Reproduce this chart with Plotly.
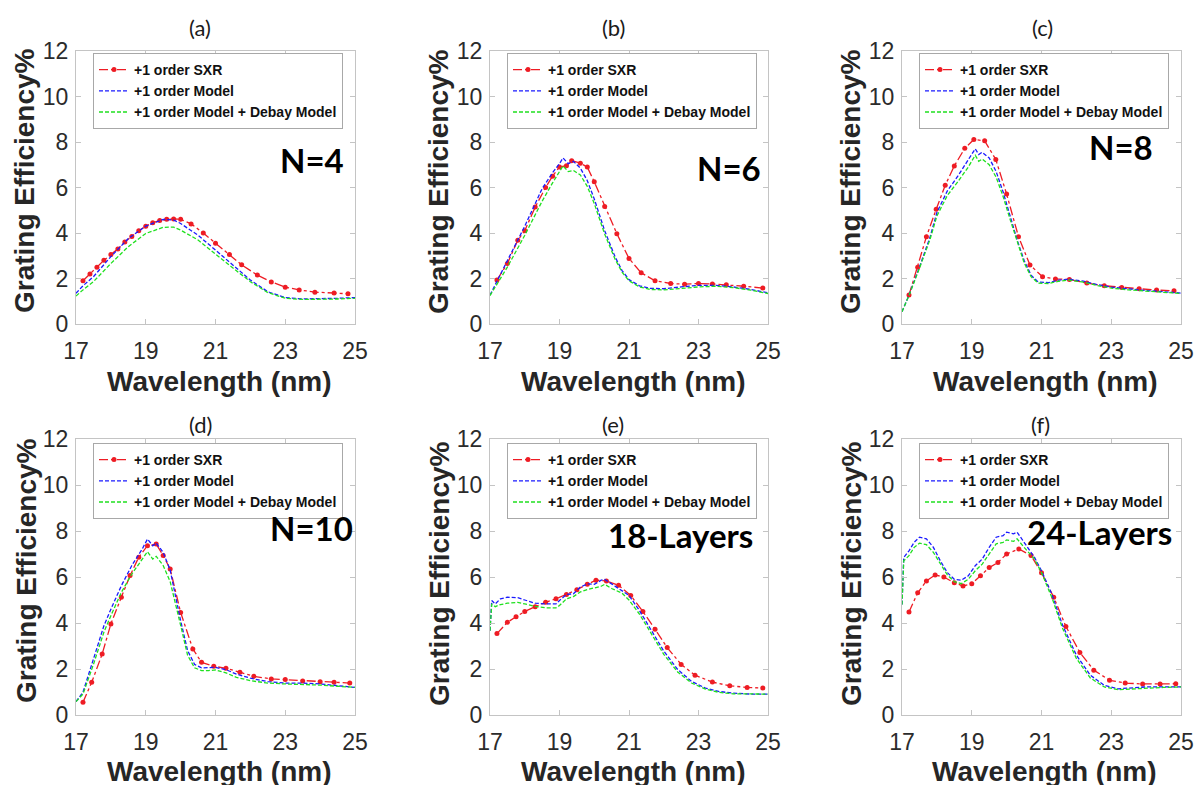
import plotly.graph_objects as go

# ---------------- data ----------------
x_ticks = [17, 19, 21, 23, 25]
y_ticks = [0, 2, 4, 6, 8, 10, 12]
panel_titles = ["(a)", "(b)", "(c)", "(d)", "(e)", "(f)"]
panel_labels = ["N=4", "N=6", "N=8", "N=10", "18-Layers", "24-Layers"]
series_names = ["+1 order SXR", "+1 order Model", "+1 order Model + Debay Model"]

# (a) N=4
a_mx = [17.0, 17.2, 17.5, 18.0, 18.5, 19.0, 19.5, 19.8, 20.0, 20.5, 21.0, 21.5, 22.0, 22.5, 23.0, 23.5, 24.0, 24.5, 25.0]
a_blue = [1.35, 1.68, 2.08, 2.96, 3.76, 4.3, 4.6, 4.57, 4.42, 3.9, 3.25, 2.6, 1.93, 1.42, 1.16, 1.1, 1.1, 1.13, 1.16]
a_green = [1.23, 1.5, 1.86, 2.66, 3.4, 3.98, 4.25, 4.26, 4.13, 3.69, 3.07, 2.45, 1.86, 1.38, 1.13, 1.08, 1.08, 1.1, 1.13]
a_sx = [17.2, 17.4, 17.6, 17.8, 18.0, 18.2, 18.4, 18.6, 18.8, 19.0, 19.2, 19.4, 19.6, 19.8, 20.0, 20.3, 20.65, 21.0, 21.4, 21.75, 22.2, 22.6, 23.0, 23.4, 23.85, 24.4, 24.8]
a_sxr = [1.9, 2.2, 2.5, 2.8, 3.05, 3.3, 3.6, 3.85, 4.1, 4.3, 4.45, 4.55, 4.6, 4.62, 4.6, 4.4, 4.0, 3.55, 3.05, 2.6, 2.15, 1.85, 1.62, 1.5, 1.4, 1.36, 1.33]

# (b) N=6
b_mx = [17.0, 17.5, 18.0, 18.5, 18.8, 19.0, 19.1, 19.25, 19.4, 19.6, 19.8, 20.0, 20.3, 20.6, 20.8, 21.0, 21.3, 21.6, 22.0, 22.5, 23.0, 23.5, 24.0, 24.5, 25.0]
b_blue = [1.27, 2.75, 4.3, 5.95, 6.65, 7.05, 7.3, 7.05, 7.15, 6.85, 6.3, 5.5, 4.1, 2.95, 2.35, 1.95, 1.68, 1.57, 1.55, 1.63, 1.7, 1.7, 1.63, 1.52, 1.37]
b_green = [1.25, 2.5, 3.9, 5.4, 6.2, 6.7, 6.95, 6.7, 6.75, 6.55, 6.05, 5.3, 3.95, 2.85, 2.28, 1.9, 1.63, 1.52, 1.5, 1.56, 1.63, 1.66, 1.6, 1.49, 1.34]
b_sx = [17.2, 17.5, 17.8, 18.0, 18.3, 18.6, 18.8, 19.0, 19.2, 19.35, 19.6, 19.8, 20.0, 20.3, 20.65, 21.0, 21.35, 21.75, 22.2, 22.6, 23.0, 23.4, 23.8, 24.3, 24.85]
b_sxr = [1.93, 2.66, 3.68, 4.1, 5.14, 6.0, 6.5, 6.9, 6.96, 7.18, 7.07, 6.9, 6.25, 5.17, 3.97, 2.88, 2.25, 1.9, 1.78, 1.75, 1.78, 1.76, 1.72, 1.66, 1.58]

# (c) N=8
c_mx = [17.0, 17.2, 17.5, 17.8, 18.0, 18.3, 18.6, 18.9, 19.1, 19.2, 19.3, 19.5, 19.7, 19.9, 20.1, 20.3, 20.5, 20.7, 20.9, 21.2, 21.5, 21.8, 22.2, 22.6, 23.0, 23.5, 24.0, 24.5, 25.0]
c_blue = [0.54, 1.27, 2.5, 3.8, 4.9, 5.85, 6.5, 7.2, 7.7, 7.45, 7.55, 7.3, 6.7, 5.8, 4.75, 3.7, 2.8, 2.15, 1.85, 1.82, 1.93, 1.97, 1.88, 1.73, 1.62, 1.53, 1.47, 1.42, 1.36]
c_green = [0.54, 1.25, 2.45, 3.7, 4.75, 5.65, 6.25, 6.9, 7.42, 7.15, 7.25, 7.0, 6.45, 5.6, 4.6, 3.6, 2.7, 2.08, 1.8, 1.78, 1.88, 1.93, 1.84, 1.69, 1.58, 1.5, 1.44, 1.4, 1.34]
c_sx = [17.2, 17.45, 17.7, 17.98, 18.24, 18.5, 18.8, 19.06, 19.37, 19.69, 20.0, 20.34, 20.67, 21.03, 21.4, 21.8, 22.3, 22.8, 23.3, 23.8, 24.3, 24.8]
c_sxr = [1.27, 2.5, 3.84, 5.04, 6.1, 6.95, 7.72, 8.11, 8.05, 7.23, 5.71, 3.84, 2.59, 2.08, 1.98, 1.96, 1.8, 1.68, 1.6, 1.55, 1.49, 1.46]

# (d) N=10
d_mx = [17.0, 17.2, 17.5, 17.8, 18.0, 18.3, 18.6, 18.9, 19.05, 19.2, 19.3, 19.5, 19.7, 20.0, 20.2, 20.4, 20.6, 20.8, 21.0, 21.3, 21.6, 22.0, 22.5, 23.0, 23.5, 24.0, 24.5, 25.0]
d_blue = [0.58, 0.99, 2.43, 3.88, 4.6, 5.62, 6.5, 7.22, 7.65, 7.36, 7.48, 7.07, 6.3, 4.1, 2.8, 2.2, 2.05, 2.07, 2.07, 1.97, 1.78, 1.6, 1.45, 1.39, 1.39, 1.35, 1.28, 1.2]
d_green = [0.58, 0.91, 2.2, 3.6, 4.32, 5.33, 6.13, 6.78, 7.1, 6.78, 6.9, 6.5, 5.8, 3.9, 2.6, 2.05, 1.93, 1.93, 1.96, 1.83, 1.64, 1.49, 1.39, 1.35, 1.33, 1.3, 1.25, 1.2]
d_sx = [17.2, 17.45, 17.75, 18.0, 18.3, 18.55, 18.8, 19.05, 19.3, 19.5, 19.7, 20.0, 20.35, 20.6, 20.95, 21.3, 21.7, 22.1, 22.6, 23.0, 23.5, 24.0, 24.4, 24.85]
d_sxr = [0.55, 1.42, 2.65, 3.96, 5.12, 6.06, 6.86, 7.36, 7.43, 6.93, 6.35, 4.46, 2.87, 2.29, 2.12, 2.03, 1.86, 1.68, 1.57, 1.54, 1.48, 1.45, 1.42, 1.39]

# (e) 18-Layers
e_mx = [17.0, 17.05, 17.15, 17.3, 17.5, 17.8, 18.0, 18.3, 18.6, 18.9, 19.0, 19.2, 19.4, 19.6, 19.8, 20.0, 20.2, 20.3, 20.5, 20.8, 21.0, 21.3, 21.6, 22.0, 22.4, 22.8, 23.2, 23.6, 24.0, 24.5, 25.0]
e_blue = [3.66, 4.98, 4.83, 5.05, 5.12, 5.1, 5.0, 4.86, 4.83, 4.83, 4.98, 5.24, 5.27, 5.56, 5.7, 5.68, 5.86, 5.89, 5.7, 5.42, 5.2, 4.54, 3.8, 2.78, 1.98, 1.46, 1.17, 1.02, 0.95, 0.91, 0.91]
e_green = [3.66, 4.83, 4.71, 4.8, 4.86, 4.9, 4.83, 4.72, 4.66, 4.66, 4.76, 5.05, 5.15, 5.35, 5.45, 5.53, 5.6, 5.68, 5.5, 5.3, 5.0, 4.39, 3.66, 2.64, 1.87, 1.39, 1.13, 0.98, 0.92, 0.9, 0.91]
e_sx = [17.2, 17.5, 17.75, 18.0, 18.3, 18.6, 18.9, 19.2, 19.5, 19.8, 20.05, 20.35, 20.7, 21.05, 21.4, 21.75, 22.1, 22.5, 22.9, 23.4, 23.9, 24.4, 24.85]
e_sxr = [3.54, 4.03, 4.27, 4.5, 4.71, 4.9, 5.05, 5.24, 5.45, 5.68, 5.86, 5.83, 5.64, 5.2, 4.5, 3.73, 2.93, 2.2, 1.73, 1.43, 1.27, 1.2, 1.17]

# (f) 24-Layers
f_mx = [17.0, 17.05, 17.2, 17.35, 17.5, 17.7, 17.9, 18.1, 18.3, 18.5, 18.7, 18.9, 19.1, 19.3, 19.5, 19.7, 19.9, 20.0, 20.2, 20.3, 20.5, 20.8, 21.0, 21.3, 21.6, 22.0, 22.4, 22.8, 23.2, 23.6, 24.0, 24.5, 25.0]
f_blue = [4.8, 6.85, 7.14, 7.51, 7.73, 7.66, 7.29, 6.7, 6.19, 5.9, 5.86, 6.05, 6.49, 6.78, 7.29, 7.73, 7.8, 7.95, 7.88, 7.95, 7.51, 6.85, 6.27, 5.24, 3.92, 2.6, 1.73, 1.29, 1.14, 1.17, 1.22, 1.22, 1.22]
f_green = [4.8, 6.7, 6.93, 7.29, 7.47, 7.41, 7.07, 6.56, 6.09, 5.8, 5.71, 5.9, 6.27, 6.56, 7.0, 7.44, 7.51, 7.61, 7.55, 7.66, 7.29, 6.78, 6.19, 5.1, 3.78, 2.46, 1.61, 1.22, 1.1, 1.14, 1.17, 1.2, 1.22]
f_sx = [17.2, 17.45, 17.7, 17.95, 18.2, 18.5, 18.75, 19.0, 19.25, 19.5, 19.75, 20.0, 20.35, 20.7, 21.0, 21.35, 21.7, 22.1, 22.5, 22.95, 23.4, 23.9, 24.4, 24.85]
f_sxr = [4.48, 5.31, 5.83, 6.09, 6.0, 5.75, 5.61, 5.71, 6.05, 6.41, 6.63, 7.0, 7.22, 6.93, 6.19, 5.12, 3.85, 2.72, 1.95, 1.51, 1.39, 1.35, 1.35, 1.36]

panels = [
    (a_mx, a_blue, a_green, a_sx, a_sxr),
    (b_mx, b_blue, b_green, b_sx, b_sxr),
    (c_mx, c_blue, c_green, c_sx, c_sxr),
    (d_mx, d_blue, d_green, d_sx, d_sxr),
    (e_mx, e_blue, e_green, e_sx, e_sxr),
    (f_mx, f_blue, f_green, f_sx, f_sxr),
]

# ---------------- layout geometry (page pixels) ----------------
W, H = 1198, 785
col_px = [(76, 355), (490, 768), (902, 1181)]
row_px = [(51, 324), (439, 715)]
title_pos = [(200, 28), (613, 28), (1042, 28), (200, 424), (613, 424), (1040, 424)]
label_pos = [(312, 160), (729, 168), (1121, 147), (311, 528), (681, 535), (1099, 532)]
ytitle_pos = [(25, 181), (439, 182), (851, 182), (26, 571), (439, 574), (851, 574)]
xtitle_pos = [(220, 381), (633, 381), (1045, 381), (220, 771), (633, 771), (1044, 771)]
legend_pos = [(93, 53), (507, 53), (919, 53), (93, 443), (507, 443), (919, 443)]


def fx(px):
    return px / W


def fy(py):
    return 1 - py / H


RED = "#ee1c24"
BLUE = "#1a1aff"
GREEN = "#1fe01f"
TICK_FONT = dict(family="Liberation Sans, Arial, sans-serif", size=23, color="#2b2b2b")

fig = go.Figure()
layout = dict(template="none", width=W, height=H, margin=dict(l=0, r=0, t=0, b=0, pad=0),
              paper_bgcolor="white", plot_bgcolor="white", showlegend=True)
annotations = []

for i, (mx, blue, green, sx, sxr) in enumerate(panels):
    r, c = divmod(i, 3)
    sfx = "" if i == 0 else str(i + 1)
    xa, ya = "x" + sfx, "y" + sfx
    lg = "legend" + sfx
    x0, x1 = col_px[c]
    y0, y1 = row_px[r]
    layout["xaxis" + sfx] = dict(
        domain=[fx(x0), fx(x1)], range=[17, 25], tickvals=x_ticks,
        showgrid=False, zeroline=False, showline=True, mirror="ticks",
        linecolor="#c4c4c4", linewidth=1, ticks="inside", ticklen=5,
        tickcolor="#c4c4c4", tickfont=TICK_FONT, ticklabelstandoff=6,
        automargin=False, anchor=ya, fixedrange=True)
    layout["yaxis" + sfx] = dict(
        domain=[fy(y1), fy(y0)], range=[0, 12], tickvals=y_ticks,
        showgrid=False, zeroline=False, showline=True, mirror="ticks",
        linecolor="#c4c4c4", linewidth=1, ticks="inside", ticklen=5,
        tickcolor="#c4c4c4", tickfont=TICK_FONT, ticklabelstandoff=2,
        automargin=False, anchor=xa, fixedrange=True)
    lx, ly = legend_pos[i]
    layout[lg] = dict(
        x=fx(lx), y=fy(ly), xanchor="left", yanchor="top",
        xref="paper", yref="paper",
        bgcolor="white", bordercolor="#a8a8a8", borderwidth=1,
        font=dict(family="Liberation Sans, Arial, sans-serif", size=14, color="#111111", weight="bold"),
        itemwidth=30, tracegroupgap=0, traceorder="normal")

    fig.add_trace(go.Scatter(
        x=sx, y=sxr, xaxis=xa, yaxis=ya, legend=lg, name=series_names[0],
        mode="lines+markers",
        line=dict(color=RED, width=1.3, dash="dashdot"),
        marker=dict(color=RED, size=5, symbol="circle")))
    fig.add_trace(go.Scatter(
        x=mx, y=blue, xaxis=xa, yaxis=ya, legend=lg, name=series_names[1],
        mode="lines", line=dict(color=BLUE, width=1.3, dash="4px,2px")))
    fig.add_trace(go.Scatter(
        x=mx, y=green, xaxis=xa, yaxis=ya, legend=lg, name=series_names[2],
        mode="lines", line=dict(color=GREEN, width=1.3, dash="4px,2px")))

    tx, ty = title_pos[i]
    annotations.append(dict(text=panel_titles[i], x=fx(tx), y=fy(ty), xref="paper", yref="paper",
                            showarrow=False, xanchor="center", yanchor="middle",
                            font=dict(family="Lato, Open Sans, sans-serif", size=22, color="#1a1a1a")))
    px_, py_ = label_pos[i]
    annotations.append(dict(text="<b>" + panel_labels[i] + "</b>", x=fx(px_), y=fy(py_),
                            xref="paper", yref="paper", showarrow=False,
                            xanchor="center", yanchor="middle",
                            font=dict(family="Lato, Open Sans, sans-serif", size=33, color="#000000")))
    yx, yy = ytitle_pos[i]
    annotations.append(dict(text="<b>Grating Efficiency%</b>", x=fx(yx), y=fy(yy),
                            xref="paper", yref="paper", showarrow=False, textangle=-90,
                            xanchor="center", yanchor="middle",
                            font=dict(family="Liberation Sans, Arial, sans-serif", size=28, color="#262626")))
    xx, xy = xtitle_pos[i]
    annotations.append(dict(text="<b>Wavelength (nm)</b>", x=fx(xx), y=fy(xy),
                            xref="paper", yref="paper", showarrow=False,
                            xanchor="center", yanchor="middle",
                            font=dict(family="Liberation Sans, Arial, sans-serif", size=28, color="#262626")))

layout["annotations"] = annotations
fig.update_layout(**layout)
# remove the browser's default 8px page margin so the figure fills the window exactly
fig.write_html("out.html",
               config={"displayModeBar": False},
               post_script="document.body.style.margin='0';document.body.style.overflow='hidden';")
